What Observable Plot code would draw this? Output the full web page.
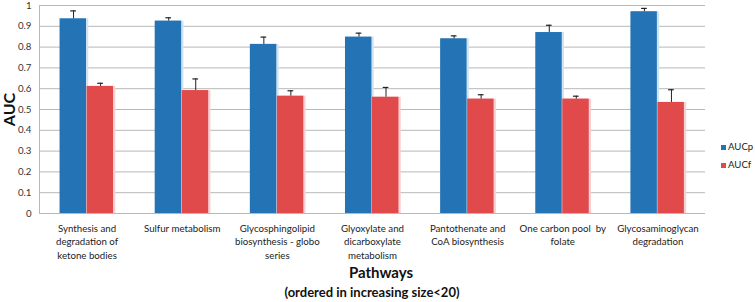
<!DOCTYPE html>
<html>
<head>
<meta charset="utf-8">
<script src="https://cdn.jsdelivr.net/npm/d3@7"></script>
<script src="https://cdn.jsdelivr.net/npm/@observablehq/plot@0.6"></script>
<style>
  html, body { margin: 0; padding: 0; background: #fff; }
  #wrap { position: relative; width: 755px; height: 302px; font-family: Lato, "Open Sans", sans-serif; color: #222; overflow: hidden; }
  #chart svg { display: block; }
  #chart g[aria-label="y-axis label"] text { font-size: 16px; font-weight: bold; fill: #111; }
  #legend { position: absolute; left: 721px; top: 138px; width: 34px; font-size: 9.6px; line-height: 18px; color: #222; white-space: nowrap; }
  #legend .sw { display: inline-block; width: 5px; height: 5px; margin-right: 2px; }
  #t1 { position: absolute; left: 39px; width: 684px; top: 263px; text-align: center; font-size: 15px; font-weight: bold; color: #111; }
  #t2 { position: absolute; left: 39px; width: 666px; top: 284px; text-align: center; font-size: 13px; font-weight: bold; color: #111; }
</style>
</head>
<body>
<div id="wrap">
  <div id="chart"></div>
  <div id="legend"></div>
  <div id="t1">Pathways</div>
  <div id="t2">(ordered in increasing size&lt;20)</div>
</div>
<script>
const categories = [
  "Synthesis and\ndegradation of\nketone bodies",
  "Sulfur metabolism",
  "Glycosphingolipid\nbiosynthesis - globo\nseries",
  "Glyoxylate and\ndicarboxylate\nmetabolism",
  "Pantothenate and\nCoA biosynthesis",
  "One carbon pool  by\nfolate",
  "Glycosaminoglycan\ndegradation"
];
const seriesNames = ["AUCp", "AUCf"];
const seriesColors = ["#2474b5", "#e04a4a"];
const shadowColors = ["#cfe3f3", "#f7d0d3"];
const aucp    = [0.936, 0.925, 0.813, 0.848, 0.840, 0.870, 0.970];
const aucpErr = [0.038, 0.016, 0.035, 0.019, 0.014, 0.035, 0.016];
const aucf    = [0.611, 0.591, 0.564, 0.559, 0.550, 0.550, 0.534];
const aucfErr = [0.015, 0.056, 0.026, 0.047, 0.021, 0.014, 0.061];
const yTicks  = [0, 0.1, 0.2, 0.3, 0.4, 0.5, 0.6, 0.7, 0.8, 0.9, 1];

const half = 0.284; // bar width in category units
const rows = [];
categories.forEach((c, i) => {
  rows.push({i, s: 0, series: "AUCp", x1: i - half, x2: i, v: aucp[i], e: aucpErr[i]});
  rows.push({i, s: 1, series: "AUCf", x1: i, x2: i + half, v: aucf[i], e: aucfErr[i]});
});
rows.forEach(d => { d.c = (d.x1 + d.x2) / 2; });

const chart = Plot.plot({
  width: 755,
  height: 262,
  marginLeft: 39,
  marginRight: 50,
  marginTop: 5,
  marginBottom: 49,
  style: {fontFamily: "Lato, 'Open Sans', sans-serif", fontSize: "9.7px", color: "#222", background: "#fff"},
  x: {domain: [-0.5, categories.length - 0.5]},
  y: {domain: [0, 1]},
  marks: [
    Plot.ruleY(yTicks, {stroke: "#b8b8b8", strokeWidth: 1}),
    Plot.ruleX([-0.5], {stroke: "#b8b8b8"}),
    Plot.rectY(rows, {x1: d => d.x1 + 0.01, x2: d => d.x2 + 0.018, y1: 0, y2: "v", fill: d => shadowColors[d.s]}),
    Plot.rectY(rows, {x1: "x1", x2: d => d.x2 - 0.006, y1: 0, y2: "v", fill: d => seriesColors[d.s]}),
    Plot.ruleX(rows, {x: "c", y1: "v", y2: d => d.v + d.e, stroke: "#222", strokeWidth: 1}),
    Plot.ruleY(rows, {y: d => d.v + d.e, x1: d => d.c - 0.03, x2: d => d.c + 0.03, stroke: "#222", strokeWidth: 1.2}),
    Plot.axisY({ticks: yTicks, tickSize: 0, tickPadding: 8, tickFormat: d => String(+d.toFixed(1)),
                label: "AUC", labelAnchor: "center", labelArrow: "none", labelOffset: 36, fill: "#333"}),
    Plot.axisX({ticks: d3.range(categories.length), tickSize: 0, tickPadding: 9,
                tickFormat: i => categories[i], label: null, fill: "#222", lineHeight: 1.38})
  ]
});
document.getElementById("chart").appendChild(chart);

const legend = document.getElementById("legend");
seriesNames.forEach((n, k) => {
  const row = document.createElement("div");
  row.innerHTML = `<span class="sw" style="background:${seriesColors[k]}"></span>${n}`;
  legend.appendChild(row);
});
</script>
</body>
</html>
